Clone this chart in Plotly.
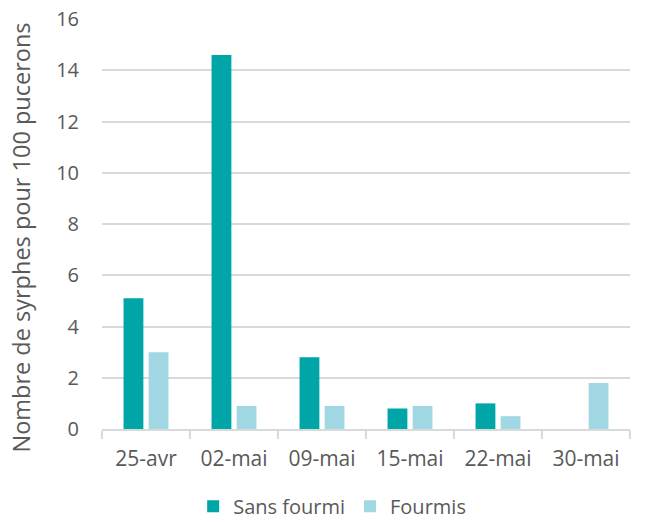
import plotly.graph_objects as go

dates = ["25-avr", "02-mai", "09-mai", "15-mai", "22-mai", "30-mai"]
sans_fourmi = [5.1, 14.6, 2.8, 0.8, 1.0, 0]
fourmis = [3.0, 0.9, 0.9, 0.9, 0.5, 1.8]
y_ticks = [0, 2, 4, 6, 8, 10, 12, 14, 16]

TEAL = "#00A5A7"
LIGHT = "#A0D7E3"
GRID = "#D9D9D9"
TEXT = "#595959"
FONT = "Open Sans"

fig = go.Figure()
fig.add_trace(go.Bar(x=dates, y=sans_fourmi, name="Sans fourmi",
                     marker=dict(color=TEAL, line=dict(width=0))))
fig.add_trace(go.Bar(x=dates, y=fourmis, name="Fourmis",
                     marker=dict(color=LIGHT, line=dict(width=0))))

fig.update_layout(
    width=645, height=522,
    margin=dict(l=102, r=15, t=19, b=93, autoexpand=False),
    paper_bgcolor="white", plot_bgcolor="white",
    barmode="group", bargap=0.43, bargroupgap=0.21,
    font=dict(family=FONT, size=20, color=TEXT),
    showlegend=True,
    legend=dict(orientation="h", xref="container", x=0.515, xanchor="center",
                yref="container", y=0.03, yanchor="middle",
                font=dict(size=20, color=TEXT), traceorder="normal"),
    annotations=[dict(text="Nombre de syrphes pour 100 pucerons",
                      xref="paper", yref="paper", x=-0.1534, y=0.467,
                      xanchor="center", yanchor="middle", textangle=-90,
                      showarrow=False, font=dict(size=23.5, color=TEXT))],
)
fig.update_xaxes(
    type="category", showline=True, linecolor=GRID, linewidth=1.5,
    ticks="outside", tickson="boundaries", ticklen=8, tickcolor=GRID, tickwidth=1.5,
    showgrid=False, tickfont=dict(size=21, color=TEXT), ticklabelstandoff=10,
)
fig.update_yaxes(
    range=[0, 16], tickvals=y_ticks, showgrid=True, gridcolor=GRID, gridwidth=1.5,
    zeroline=False, showline=False, ticks="", ticklabelstandoff=22,
    tickfont=dict(size=20, color=TEXT),
)

fig.write_html("out.html")
